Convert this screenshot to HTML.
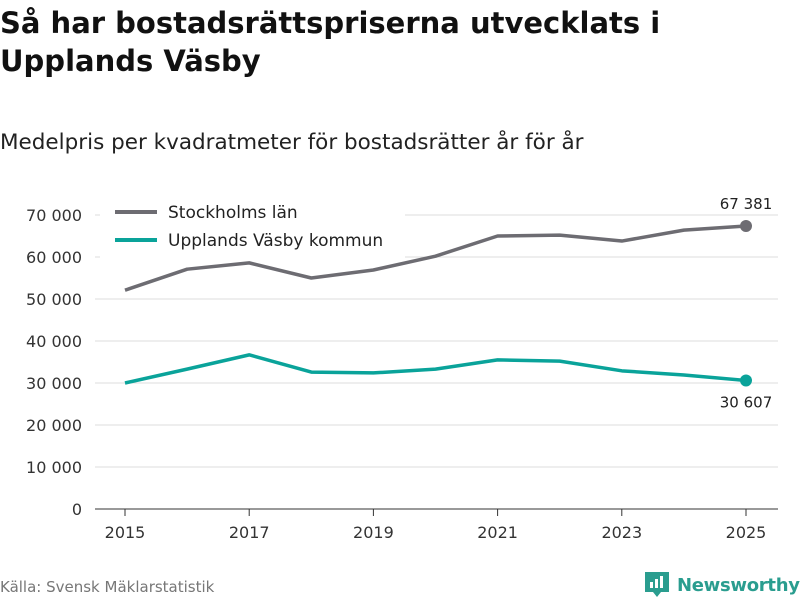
<!DOCTYPE html>
<html><head><meta charset="utf-8"><style>
body{margin:0;width:800px;height:600px;background:#fff;font-family:"DejaVu Sans","Liberation Sans",sans-serif;overflow:hidden;position:relative}
h1{position:absolute;left:0;top:4px;margin:0;font-size:29px;font-weight:bold;line-height:38px;color:#111;white-space:nowrap}
.sub{position:absolute;left:0;top:130px;font-size:21.5px;color:#222;white-space:nowrap}
.src{position:absolute;left:0;top:578px;font-size:15px;color:#777}
.logo{position:absolute;left:645px;top:570px;font-size:18px;color:#2a9d8f;font-weight:bold;white-space:nowrap;letter-spacing:-0.3px}
</style></head><body>
<h1>Så har bostadsrättspriserna utvecklats i<br>Upplands Väsby</h1>
<div class="sub">Medelpris per kvadratmeter för bostadsrätter år för år</div>
<svg id="chart" width="800" height="600" style="position:absolute;left:0;top:0"></svg>
<div class="src">Källa: Svensk Mäklarstatistik</div>
<div class="logo"><svg width="24" height="28" style="vertical-align:-7px;margin-right:8px"><path d="M0 2h24v20h-8l-4 5-4-5H0z" fill="#2a9d8f"/><rect x="5" y="12" width="3" height="6" fill="#fff"/><rect x="10" y="9" width="3" height="9" fill="#fff"/><rect x="15" y="6" width="3" height="12" fill="#fff"/></svg>Newsworthy</div>
<script>
const years=[2015,2016,2017,2018,2019,2020,2021,2022,2023,2024,2025];
const stockholm=[52100,57100,58600,55000,56900,60200,65000,65200,63800,66400,67381];
const vasby=[30000,33300,36700,32600,32400,33300,35500,35200,32900,31900,30607];
const yTicks=[0,10000,20000,30000,40000,50000,60000,70000];
const xTicks=[2015,2017,2019,2021,2023,2025];
const svg=document.getElementById('chart');const NS='http://www.w3.org/2000/svg';
const x=v=>125+(v-2015)*62.1, y=v=>509-v*0.0042;
const fmt=v=>String(Math.round(v)).replace(/\B(?=(\d{3})+(?!\d))/g,' ');
function mk(t,a,txt){const e=document.createElementNS(NS,t);for(const k in a)e.setAttribute(k,a[k]);if(txt!=null)e.textContent=txt;svg.appendChild(e);return e;}
yTicks.forEach(v=>{const g=mk('line',{x1:95,x2:778,y1:y(v),y2:y(v),stroke:v?'#ddd':'#333','stroke-width':1});

const t=mk('text',{x:82,y:y(v)+6,'text-anchor':'end','font-size':16,fill:'#333'},fmt(v));
});
xTicks.forEach(v=>{const l=mk('line',{x1:x(v),x2:x(v),y1:509,y2:516,stroke:'#333'});

const t=mk('text',{x:x(v),y:538,'text-anchor':'middle','font-size':16,fill:'#333'},v);
});
function series(d,c,name,dy){const p=mk('polyline',{points:d.map((v,i)=>x(years[i])+','+y(v)).join(' '),fill:'none',stroke:c,'stroke-width':3.5,'stroke-linejoin':'round'});

const n=d.length-1;const cc=mk('circle',{cx:x(years[n]),cy:y(d[n]),r:6,fill:c});

const t=mk('text',{x:x(years[n]),y:y(d[n])+dy,'text-anchor':'middle','font-size':15,fill:'#222'},fmt(d[n]));
}
mk('rect',{x:100,y:196,width:305,height:62,fill:'#fff'});
series(stockholm,'#6d6c72','stockholm',-17);
series(vasby,'#0aa39a','vasby',27);
[['Stockholms län','#6d6c72',212],['Upplands Väsby kommun','#0aa39a',240]].forEach(([s,c,yy])=>{
const l=mk('line',{x1:115,x2:157,y1:yy,y2:yy,stroke:c,'stroke-width':4});

const t=mk('text',{x:168,y:yy+6,'font-size':17,fill:'#222'},s);
});
</script>
</body></html>
